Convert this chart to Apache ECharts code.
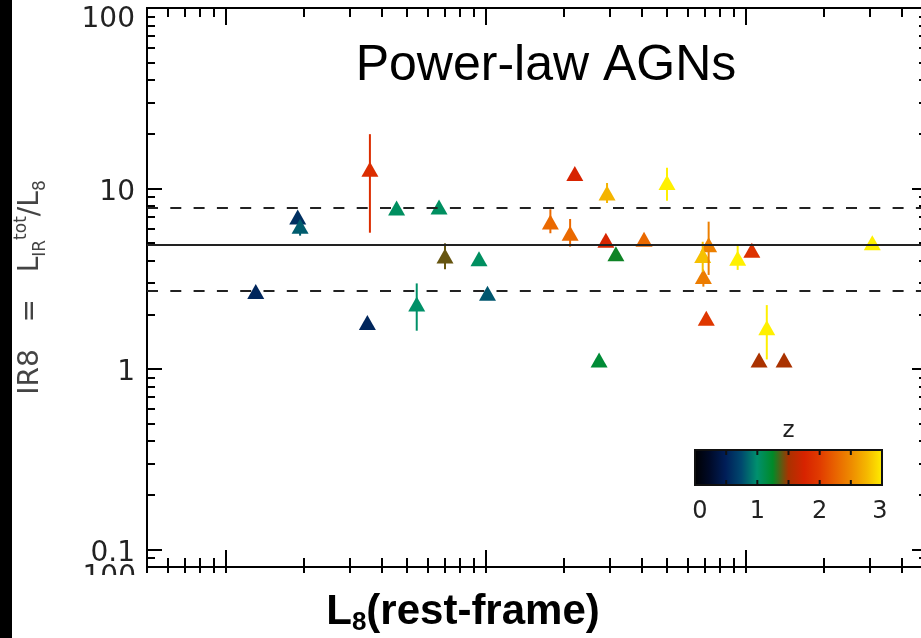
<!DOCTYPE html>
<html>
<head>
<meta charset="utf-8">
<script src="https://cdn.jsdelivr.net/npm/echarts@6/dist/echarts.min.js"></script>
<style>
  html, body { margin: 0; padding: 0; background: #fff; }
  #chart { width: 921px; height: 638px; }
</style>
</head>
<body>
<div id="chart"></div>
<script>
// Rest-frame 8 micron luminosity of each power-law AGN
const L8 = [
  1.31e10, 1.90e10, 1.94e10, 3.60e10, 3.52e10, 4.56e10, 5.45e10, 6.64e10, 7.00e10, 9.46e10,
  1.02e11, 2.74e11, 1.78e11, 2.12e11, 2.21e11, 2.94e11, 2.91e11, 3.18e11, 4.08e11, 5.00e11,
  7.23e11, 6.86e11, 6.90e11, 9.35e11, 1.06e12, 7.08e11, 1.21e12, 1.13e12, 1.41e12, 3.08e12
];
// IR8 = L_IR(tot) / L8
const IR8 = [
  2.69, 6.95, 6.17, 12.8, 1.81, 7.80, 2.29, 7.90, 4.23, 4.08,
  2.63, 1.12, 6.52, 5.65, 12.1, 9.44, 5.16, 4.35, 5.23, 10.8,
  4.88, 4.26, 3.25, 4.11, 4.55, 1.91, 1.69, 1.12, 1.12, 5.01
];
// Redshift of each source (sets the symbol colour)
const redshift = [
  0.55, 0.60, 0.82, 1.85, 0.55, 1.05, 1.02, 1.05, 1.40, 1.05,
  0.80, 1.20, 2.28, 2.28, 1.75, 2.72, 1.78, 1.27, 2.28, 3.00,
  2.42, 2.78, 2.40, 3.00, 1.90, 1.95, 3.00, 1.50, 1.50, 3.00
];
// Lower / upper ends of the IR8 error bars (null: no bar)
const ir8Low = [
  null, null, 5.48, 5.69, null, null, 1.63, null, 3.57, null,
  null, null, 5.65, 4.76, null, 8.31, null, null, null, 8.56,
  3.32, 3.46, 2.86, 3.54, null, null, 1.13, null, null, null
];
const ir8High = [
  null, null, 6.17, 20.0, null, null, 2.98, null, 4.97, null,
  null, null, 7.67, 6.78, null, 10.73, null, null, null, 13.04,
  6.55, 5.07, 3.25, 4.86, null, null, 2.26, null, null, null
];
// Main-sequence IR8: median and its spread
const ir8Median = 4.9;
const ir8Band = [7.8, 2.7];

// Axis ranges and tick values
const xRange = [5e9, 5e12];
const yRange = [0.08, 100];
const yMajorTicks = [0.1, 1, 10, 100];
const xMajorTicks = [1e10, 1e11, 1e12];
const zTicks = [0, 1, 2, 3];
const zHalfTicks = [0.5, 1, 1.5, 2, 2.5];

// Redshift colour scale, evenly spaced from z = 0 to z = 3
const zColors = [
  '#000000', '#000a28', '#001e58', '#00486e', '#00906e', '#008a28', '#aa3200',
  '#d72300', '#e13c00', '#e96400', '#ee8c00', '#f5b900', '#fff000'
];

function minorTicks(range) {
  const out = [];
  for (let e = -3; e <= 14; e++) {
    for (let k = 2; k <= 9; k++) {
      const v = +(k * Math.pow(10, e)).toPrecision(6);
      if (v >= range[0] && v <= range[1]) out.push(v);
    }
  }
  return out;
}
const xMinorTicks = minorTicks(xRange);
const yMinorTicks = minorTicks(yRange);
const xAllTicks = xMinorTicks.concat(xMajorTicks);

const FONT = 'DejaVu Sans';
const AX = { color: '#000', width: 2 };

function xAxisDef(position, ticks, len, inside, showLine) {
  return {
    type: 'log', logBase: 10, min: xRange[0], max: xRange[1], position: position,
    axisLine: { show: showLine, lineStyle: AX },
    axisTick: { show: true, inside: inside, length: len, customValues: ticks, lineStyle: AX },
    axisLabel: { show: false }, splitLine: { show: false }, minorTick: { show: false }
  };
}
function yAxisDef(position, ticks, len, withLabels) {
  const ax = {
    type: 'log', logBase: 10, min: yRange[0], max: yRange[1], position: position,
    axisLine: { show: true, lineStyle: AX },
    axisTick: { show: true, inside: true, length: len, customValues: ticks, lineStyle: AX },
    axisLabel: { show: false }, splitLine: { show: false }
  };
  if (withLabels) {
    ax.axisLabel = {
      show: true, customValues: yMajorTicks, margin: 12,
      formatter: v => (v >= 100 ? '{top|' + v + '}' : '{n|' + v + '}'),
      rich: {
        n: { fontFamily: FONT, fontSize: 28, color: '#222', padding: [8, 0, 0, 0] },
        top: { fontFamily: FONT, fontSize: 28, color: '#222', padding: [24, 0, 0, 0] }
      }
    };
    ax.name = '{n|IR8   =   L}{sub|IR}{sup|tot}{n|/L}{sub|8}';
    ax.nameLocation = 'middle';
    ax.nameRotate = 90;
    ax.nameGap = 98;
    ax.nameTextStyle = {
      color: '#444', fontFamily: FONT,
      rich: {
        n: { fontFamily: FONT, fontSize: 28, color: '#444', lineHeight: 36 },
        sub: { fontFamily: FONT, fontSize: 17, color: '#444', verticalAlign: 'bottom', lineHeight: 36 },
        sup: { fontFamily: FONT, fontSize: 17, color: '#444', verticalAlign: 'top', lineHeight: 36 }
      }
    };
  }
  return ax;
}

const points = L8.map((x, i) => [x, IR8[i], redshift[i]]);
const bars = [];
L8.forEach((x, i) => {
  if (ir8Low[i] != null) bars.push([x, IR8[i], redshift[i], ir8Low[i], ir8High[i]]);
});

// Colour bar box
const cb = { x: 695, y: 450, w: 187, h: 35 };
const cbX = z => cb.x + (z / 3) * cb.w;
const gradStops = zColors.map((c, i) => ({ offset: i / (zColors.length - 1), color: c }));

const graphics = [
  { type: 'rect', shape: { x: 0, y: 0, width: 12, height: 638 }, style: { fill: '#000' }, z: 100 },
  {
    type: 'text', x: 546, y: 66, z: 100,
    style: { text: 'Power-law AGNs', fontFamily: 'Liberation Sans', fontSize: 50, fill: '#000',
             align: 'center', verticalAlign: 'middle' }
  },
  {
    type: 'text', x: 463, y: 612, z: 100,
    style: {
      text: '{b|L}{s|8}{b|(rest-frame)}', align: 'center', verticalAlign: 'middle',
      rich: {
        b: { fontFamily: 'Liberation Sans', fontWeight: 'bold', fontSize: 42, fill: '#000', lineHeight: 48 },
        s: { fontFamily: 'Liberation Sans', fontWeight: 'bold', fontSize: 26, fill: '#000',
             verticalAlign: 'bottom', lineHeight: 48 }
      }
    }
  },
  // label of the neighbouring panel, cut by the figure edge
  {
    type: 'text', x: 136, y: 578, z: 90,
    style: { text: '100', fontFamily: FONT, fontSize: 28, fill: '#222', align: 'right', verticalAlign: 'middle' }
  },
  { type: 'rect', shape: { x: 40, y: 575, width: 104, height: 63 }, style: { fill: '#fff' }, z: 95 },
  // redshift colour bar
  {
    type: 'rect', z: 100,
    shape: { x: cb.x, y: cb.y, width: cb.w, height: cb.h },
    style: { fill: { type: 'linear', x: 0, y: 0, x2: 1, y2: 0, colorStops: gradStops }, stroke: '#111', lineWidth: 2 }
  },
  {
    type: 'text', x: cbX(1.5), y: 431, z: 100,
    style: { text: 'z', fontFamily: FONT, fontSize: 23, fill: '#222', align: 'center', verticalAlign: 'middle' }
  }
];
zHalfTicks.forEach(z => {
  graphics.push({ type: 'line', z: 101, shape: { x1: cbX(z), y1: cb.y, x2: cbX(z), y2: cb.y + 5 },
                  style: { stroke: '#111', lineWidth: 2 } });
  graphics.push({ type: 'line', z: 101, shape: { x1: cbX(z), y1: cb.y + cb.h, x2: cbX(z), y2: cb.y + cb.h - 5 },
                  style: { stroke: '#111', lineWidth: 2 } });
});
zTicks.forEach(z => {
  const nudge = z === 0 ? 5 : (z === 3 ? -2 : 0);
  graphics.push({
    type: 'text', x: cbX(z) + nudge, y: 512, z: 100,
    style: { text: String(z), fontFamily: FONT, fontSize: 24, fill: '#222', align: 'center', verticalAlign: 'middle' }
  });
});

const chart = echarts.init(document.getElementById('chart'), null, { renderer: 'canvas' });
chart.setOption({
  animation: false,
  backgroundColor: '#fff',
  grid: { left: 147, right: -6, top: 8, bottom: 71, containLabel: false, outerBoundsMode: 'none' },
  xAxis: [
    xAxisDef('bottom', xMajorTicks, 17, true, true),
    xAxisDef('bottom', xMinorTicks, 9, true, false),
    xAxisDef('bottom', xAllTicks, 6, false, false),
    xAxisDef('top', xMajorTicks, 17, true, true),
    xAxisDef('top', xMinorTicks, 9, true, false)
  ],
  yAxis: [
    yAxisDef('left', yMajorTicks, 15, true),
    yAxisDef('left', yMinorTicks, 8, false),
    yAxisDef('right', yMajorTicks, 15, false),
    yAxisDef('right', yMinorTicks, 8, false)
  ],
  visualMap: {
    type: 'continuous', show: false, dimension: 2, min: 0, max: 3,
    seriesIndex: [0, 1], inRange: { color: zColors }
  },
  series: [
    {
      type: 'scatter', xAxisIndex: 0, yAxisIndex: 0, z: 3,
      symbol: 'triangle', symbolSize: [17, 15],
      itemStyle: { opacity: 1 },
      data: points,
      markLine: {
        silent: true, symbol: 'none', label: { show: false },
        data: [
          { yAxis: ir8Median, lineStyle: { type: 'solid', color: '#222', width: 2, opacity: 1 } },
          { yAxis: ir8Band[0], lineStyle: { type: [11, 12.3], color: '#222', width: 2, opacity: 1 } },
          { yAxis: ir8Band[1], lineStyle: { type: [11, 12.3], color: '#222', width: 2, opacity: 1 } }
        ]
      }
    },
    {
      type: 'custom', xAxisIndex: 0, yAxisIndex: 0, z: 4,
      data: bars,
      encode: { x: 0, y: 1 },
      renderItem: (params, api) => {
        const x = api.value(0);
        const p1 = api.coord([x, api.value(3)]);
        const p2 = api.coord([x, api.value(4)]);
        return {
          type: 'line',
          shape: { x1: p1[0], y1: p1[1], x2: p2[0], y2: p2[1] },
          style: { stroke: api.visual('color'), lineWidth: 2 }
        };
      }
    }
  ],
  graphic: graphics
});
</script>
</body>
</html>
